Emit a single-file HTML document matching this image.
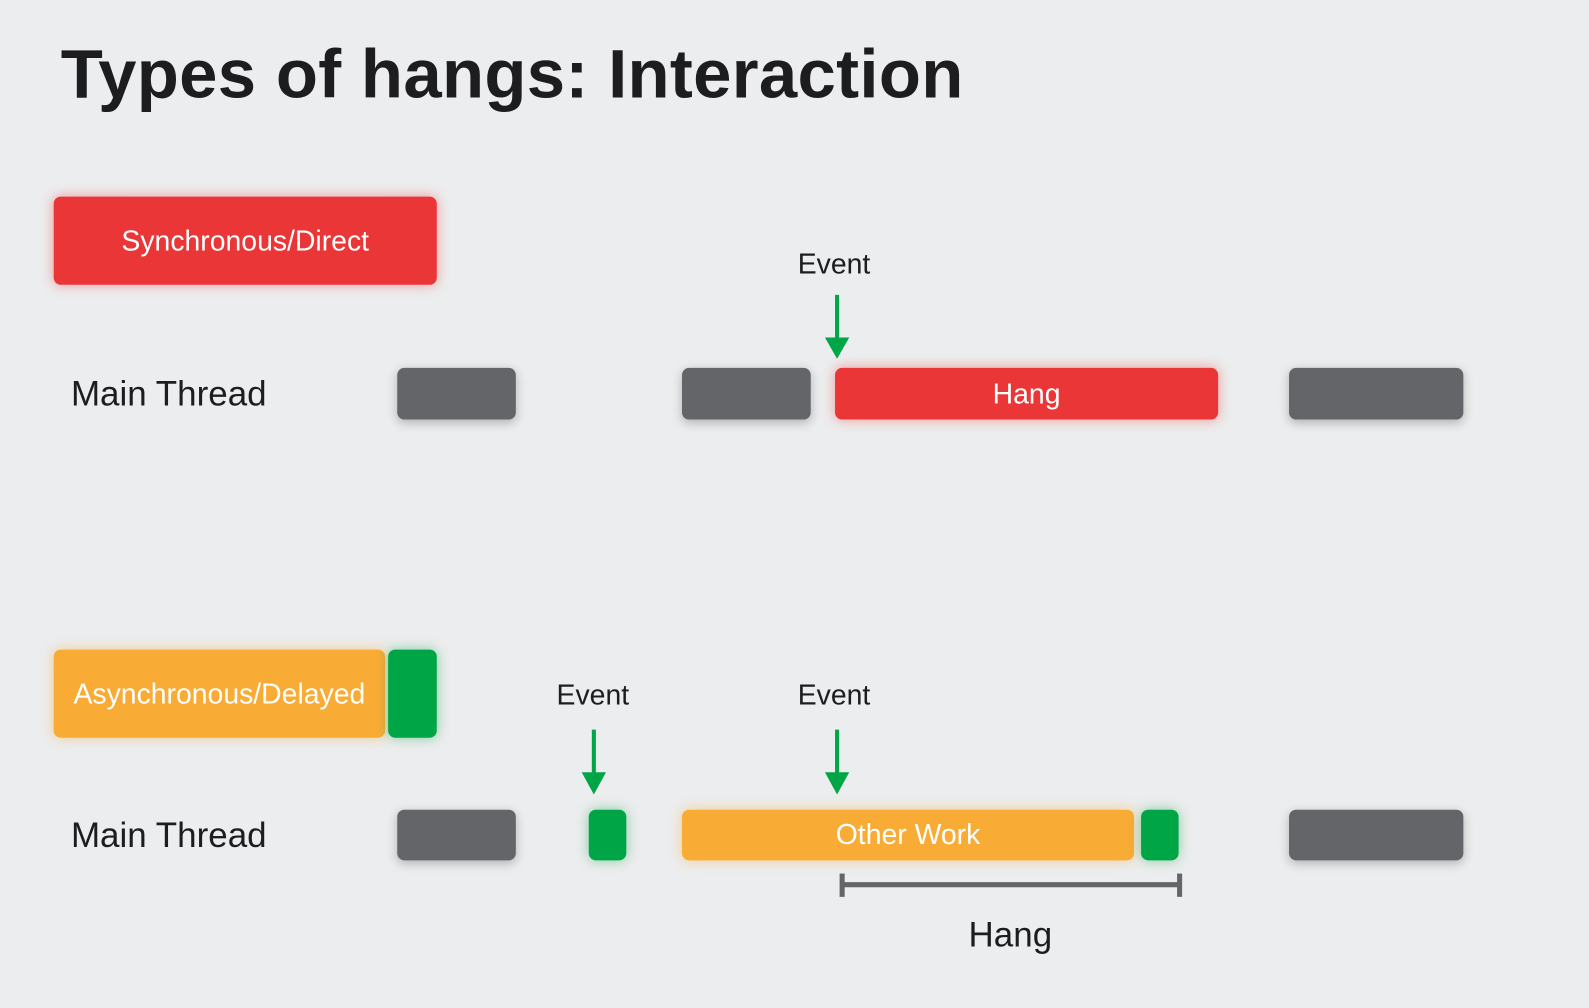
<!DOCTYPE html>
<html><head><style>
html,body{margin:0;padding:0;}
body{width:1589px;height:1008px;background:#ECEDEE;overflow:hidden;font-family:"Liberation Sans",sans-serif;}
#c{position:absolute;left:0;top:0;width:1568px;height:995px;transform:scale(1.0134);transform-origin:0 0;}
.b{position:absolute;border-radius:7px;display:flex;align-items:center;justify-content:center;color:#fff;box-sizing:border-box;}
.g{background:#636568;box-shadow:0 3px 10px rgba(0,0,0,.25);}
.r{background:#EA3636;box-shadow:0 0 12px rgba(234,54,54,.45);}
.o{background:#F9AC35;box-shadow:0 0 12px rgba(249,172,53,.5);}
.gr{background:#00A546;box-shadow:0 0 12px rgba(0,165,70,.45);}
.t{position:absolute;color:#1d1d1f;white-space:nowrap;}
</style></head><body><div id="c">
<div class="t" style="left:60px;top:34px;font-size:68px;font-weight:bold;letter-spacing:0.3px;">Types of hangs: Interaction</div>

<div class="b r" style="left:53px;top:194px;width:378px;height:87px;font-size:28px;">Synchronous/Direct</div>
<div class="t" style="left:773px;top:245px;width:100px;text-align:center;font-size:28px;">Event</div>
<div class="t" style="left:70px;top:370px;font-size:34.5px;">Main Thread</div>
<div class="b g" style="left:392px;top:363px;width:117px;height:51px;"></div>
<div class="b g" style="left:673px;top:363px;width:127px;height:51px;"></div>
<div class="b r" style="left:824px;top:363px;width:378px;height:51px;font-size:28px;">Hang</div>
<div class="b g" style="left:1272px;top:363px;width:172px;height:51px;"></div>

<div class="b o" style="left:53px;top:641px;width:327px;height:87px;font-size:28px;">Asynchronous/Delayed</div>
<div class="b gr" style="left:383px;top:641px;width:48px;height:87px;"></div>
<div class="t" style="left:535px;top:670px;width:100px;text-align:center;font-size:28px;">Event</div>
<div class="t" style="left:773px;top:670px;width:100px;text-align:center;font-size:28px;">Event</div>
<div class="t" style="left:70px;top:806px;font-size:34.5px;">Main Thread</div>
<div class="b g" style="left:392px;top:799px;width:117px;height:50px;"></div>
<div class="b gr" style="left:581px;top:799px;width:37px;height:50px;"></div>
<div class="b o" style="left:673px;top:799px;width:446px;height:50px;font-size:28px;">Other Work</div>
<div class="b gr" style="left:1126px;top:799px;width:37px;height:50px;"></div>
<div class="b g" style="left:1272px;top:799px;width:172px;height:50px;"></div>
<div class="t" style="left:947px;top:904px;width:100px;text-align:center;font-size:34.5px;">Hang</div>

<svg style="position:absolute;left:0;top:0" width="1568" height="995">
<g fill="#00A546" stroke="#00A546">
<line x1="826" y1="291" x2="826" y2="336" stroke-width="4"/><polygon points="814,333 838,333 826,354" stroke="none"/>
<line x1="586" y1="720" x2="586" y2="765" stroke-width="4"/><polygon points="574,762 598,762 586,784" stroke="none"/>
<line x1="826" y1="720" x2="826" y2="765" stroke-width="4"/><polygon points="814,762 838,762 826,784" stroke="none"/>
</g>
<g stroke="#636568" stroke-width="5">
<line x1="831" y1="873" x2="1164" y2="873"/>
<line x1="831" y1="862" x2="831" y2="885"/>
<line x1="1164" y1="862" x2="1164" y2="885"/>
</g>
</svg>
</div></body></html>
